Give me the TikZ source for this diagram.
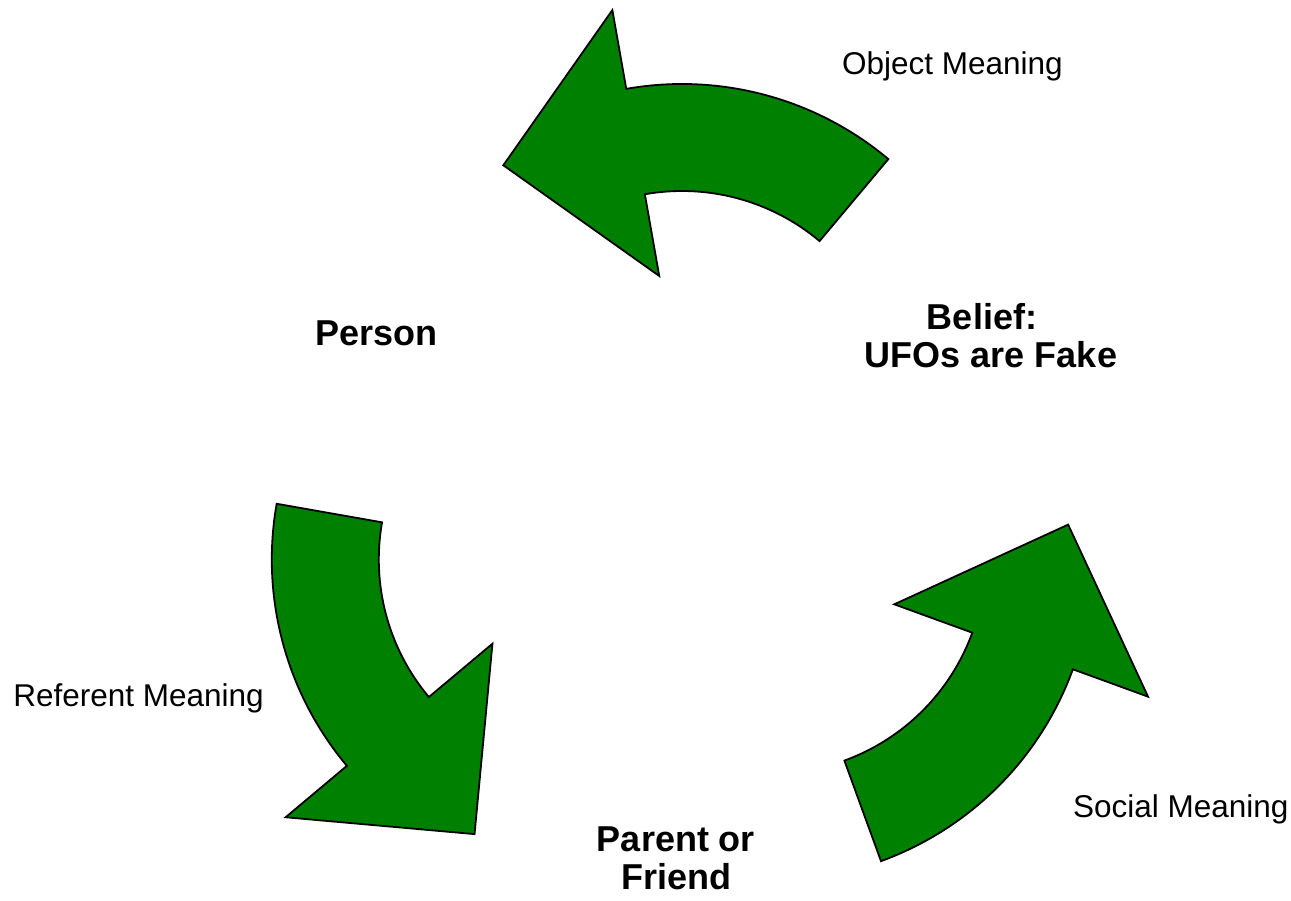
\documentclass[tikz,border=0pt]{standalone}
\usepackage{fontspec}
\setmainfont{Liberation Sans}
\usetikzlibrary{calc}
\definecolor{arrowgreen}{RGB}{0,128,0}
\begin{document}
\begin{tikzpicture}[x=1pt,y=1pt,
  cyclearrow/.style={fill=arrowgreen, draw=black, line width=1.8pt, line join=miter},
  meaning/.style={font=\fontsize{31.5}{38}\selectfont, inner sep=0pt, anchor=base},
  actor/.style={font=\fontsize{36}{38}\selectfont\bfseries, inner sep=0pt, align=center}]
\useasboundingbox (0,0) rectangle (1291,-901);
\coordinate (O) at (682,-508);
\foreach \t in {90,210,330}{
  \coordinate (c\t) at ($(O)+(\t:103)$);
  \draw[cyclearrow] ($(c\t)+(\t-40:321)$) arc[start angle=\t-40, end angle=\t+10, radius=321]
    -- ($(c\t)+(\t+10:401)$) -- ($(c\t)+(\t+36.7:299)$) -- ($(c\t)+(\t+10:131)$)
    -- ($(c\t)+(\t+10:214)$) arc[start angle=\t+10, end angle=\t-40, radius=214] -- cycle;
}
\node[meaning] (objm) at (952.5,-75) {Object Meaning};
\node[meaning] (refm) at (138.5,-706.7) {Referent Meaning};
\node[meaning] (socm) at (1180.8,-817.3) {Social Meaning};
\node[actor, anchor=base] (person) at (376.5,-345.7) {Person};
\node[actor, anchor=north] (belief) at (991,-303.5) {Belief:\kern18pt\\UFOs are Fake};
\node[actor, anchor=north] (parent) at (676,-826.5) {Parent or\\Friend};
\end{tikzpicture}
\end{document}
